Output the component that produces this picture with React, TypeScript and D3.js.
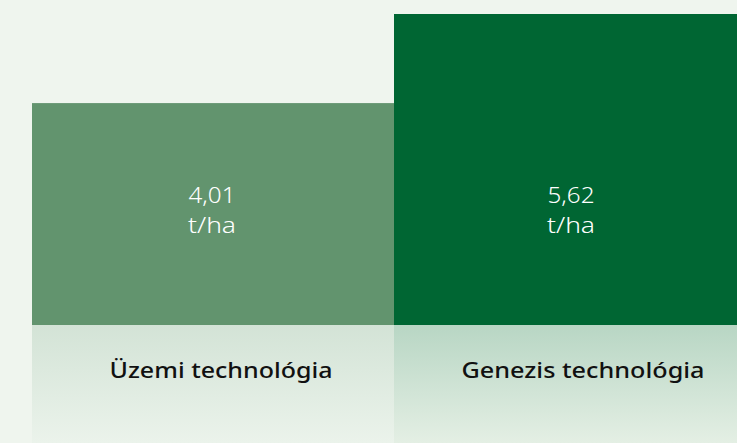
import React from "react";
import * as d3 from "d3";

const categories = ["Üzemi technológia", "Genezis technológia"];
const values = [4.01, 5.62];
const valueLabels = ["4,01", "5,62"];
const unitLabel = "t/ha";
const barColors = ["#62946e", "#006633"];
const labelTopColors = ["#d3e3d6", "#b8d6c4"];
const labelBottomColors = ["#ebf3eb", "#e4efe4"];
const labelWidths = [223, 243];

const W = 737;
const H = 443;

export default function App() {
  const x = d3.scaleBand<string>().domain(categories).range([32, 756]).padding(0);
  const y = d3.scaleLinear().domain([0, 5.62]).range([325, 14]);
  const baseline = y(0);

  return (
    <svg
      width={W}
      height={H}
      style={{ display: "block", position: "fixed", left: 0, top: 0 }}
    >
      <defs>
        {categories.map((c, i) => (
          <linearGradient key={c} id={`lg${i}`} x1="0" y1="0" x2="0" y2="1">
            <stop offset="0%" stopColor={labelTopColors[i]} />
            <stop offset="100%" stopColor={labelBottomColors[i]} />
          </linearGradient>
        ))}
      </defs>
      <rect x={0} y={0} width={W} height={H} fill="#eff5ee" />
      {categories.map((c, i) => {
        const bx = x(c)!;
        const bw = x.bandwidth();
        const cx = bx + bw / 2;
        const top = y(values[i]);
        const vx = cx - 1 - i * 3;
        return (
          <g key={c}>
            <rect x={bx} y={top} width={bw} height={baseline - top} fill={barColors[i]} />
            <rect x={bx} y={baseline} width={bw} height={H - baseline} fill={`url(#lg${i})`} />
            <text
              x={vx}
              y={203}
              textAnchor="middle"
              fill="#ffffff"
              fontFamily="'Noto Sans', sans-serif"
              fontWeight={300}
              fontSize={21}
              textLength={47}
              lengthAdjust="spacingAndGlyphs"
            >
              {valueLabels[i]}
            </text>
            <text
              x={vx}
              y={233}
              textAnchor="middle"
              fill="#ffffff"
              fontFamily="'Noto Sans', sans-serif"
              fontWeight={300}
              fontSize={21}
              textLength={48}
              lengthAdjust="spacingAndGlyphs"
            >
              {unitLabel}
            </text>
            <text
              x={cx + 8}
              y={378}
              textAnchor="middle"
              fill="#111111"
              fontFamily="'Noto Sans', sans-serif"
              fontWeight={500}
              fontSize={21}
              textLength={labelWidths[i]}
              lengthAdjust="spacingAndGlyphs"
            >
              {c}
            </text>
          </g>
        );
      })}
    </svg>
  );
}
